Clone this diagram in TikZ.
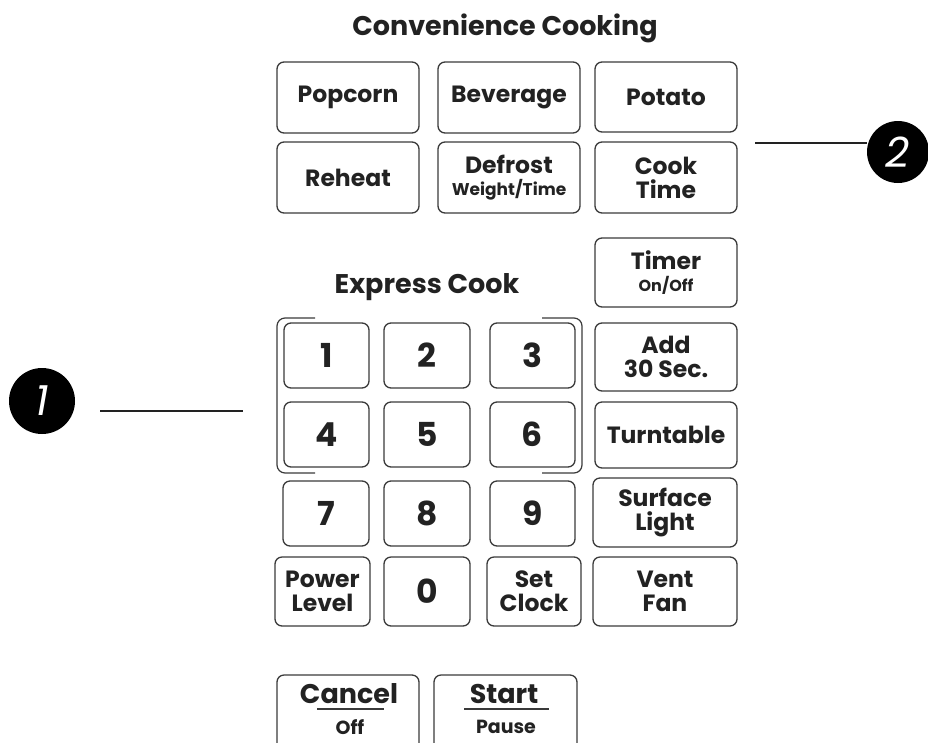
\documentclass[tikz,border=0pt]{standalone}
\usepackage{fontspec}
\setmainfont{Poppins}
\definecolor{ink}{HTML}{222222}
\definecolor{edge}{HTML}{3A3A3A}
\tikzset{
  btn/.style={draw=edge, line width=1.3pt, rounded corners=7pt, inner sep=0pt, align=center, text=ink,
    font=\fontsize{23.5}{24}\selectfont\bfseries},
  digit/.style={btn, font=\fontsize{33}{34}\selectfont\bfseries},
  small/.style={font=\fontsize{19}{20}\selectfont\bfseries},
  title/.style={text=ink, font=\fontsize{27}{28}\selectfont\bfseries, inner sep=0pt},
  badge/.style={circle, fill=black, minimum size=66pt, inner sep=0pt, text=white,
    font=\fontsize{42}{42}\selectfont\itshape},
  leader/.style={line width=1.6pt, draw=ink},
  bracket/.style={draw=edge, line width=1.2pt, rounded corners=8pt}
}
\begin{document}
\begin{tikzpicture}[x=1pt,y=-1pt]
\useasboundingbox (0,0) rectangle (928,742);
% titles
\node[title] (tconv) at (505,28) {Convenience Cooking};
\node[title] (texp) at (427,287) {Express Cook};
% convenience cooking
\node[btn, minimum width=142pt, minimum height=71pt] (popcorn) at (348,97.5) {Popcorn};
\node[btn, minimum width=142pt, minimum height=71pt] (beverage) at (509,97.5) {Beverage};
\node[btn, minimum width=142pt, minimum height=70pt] (potato) at (666,97) {Potato};
\node[btn, minimum width=142pt, minimum height=71pt] (reheat) at (348,177.5) {Reheat};
\node[btn, minimum width=142pt, minimum height=71pt] (defrost) at (509,177.5) {Defrost\\[-2pt]{\fontsize{17}{18}\selectfont Weight/Time}};
\node[btn, minimum width=142pt, minimum height=71pt] (cooktime) at (666,177.5) {Cook\\Time};
% right column
\node[btn, minimum width=142pt, minimum height=69pt] (timer) at (666,272.5) {Timer\\[-2pt]{\fontsize{16}{17}\selectfont On/Off}};
\node[btn, minimum width=142pt, minimum height=68pt] (add) at (666,357) {Add\\30 Sec.};
\node[btn, minimum width=142pt, minimum height=66pt] (turntable) at (666,435) {Turntable};
\node[btn, minimum width=144pt, minimum height=69pt] (surface) at (665,512.5) {Surface\\Light};
\node[btn, minimum width=144pt, minimum height=69pt] (vent) at (665,591.5) {Vent\\Fan};
% express cook bracket
\draw[bracket] (315,318) -- (277,318) -- (277,473) -- (315,473);
\draw[bracket] (542,318) -- (582,318) -- (582,473) -- (542,473);
% keypad
\node[digit, minimum width=85pt, minimum height=65pt] (k1) at (326.5,355.5) {1};
\node[digit, minimum width=86pt, minimum height=65pt] (k2) at (427,355.5) {2};
\node[digit, minimum width=85pt, minimum height=65pt] (k3) at (532.5,355.5) {3};
\node[digit, minimum width=85pt, minimum height=65pt] (k4) at (326.5,434.5) {4};
\node[digit, minimum width=86pt, minimum height=65pt] (k5) at (427,434.5) {5};
\node[digit, minimum width=85pt, minimum height=65pt] (k6) at (532.5,434.5) {6};
\node[digit, minimum width=86pt, minimum height=65pt] (k7) at (326,513.5) {7};
\node[digit, minimum width=86pt, minimum height=65pt] (k8) at (427,513.5) {8};
\node[digit, minimum width=85pt, minimum height=65pt] (k9) at (532.5,513.5) {9};
\node[btn, minimum width=95pt, minimum height=69pt] (power) at (322.5,591.5) {Power\\Level};
\node[digit, minimum width=86pt, minimum height=69pt] (k0) at (427,591.5) {0};
\node[btn, minimum width=94pt, minimum height=69pt] (setclock) at (534,591.5) {Set\\Clock};
% cancel / start
\node[btn, minimum width=142pt, minimum height=90pt] (cancel) at (348,720) {};
\node[btn, minimum width=143pt, minimum height=90pt] (start) at (505.5,720) {};
\node[title] (cancelt) at (349,694) {Cancel};
\node[text=ink, small] (offt) at (350,727) {Off};
\draw[edge, line width=1.3pt] (317,709) -- (384,709);
\node[title] (startt) at (504,694) {Start};
\node[text=ink, small] (pauset) at (506,727) {Pause};
\draw[edge, line width=1.3pt] (464,709) -- (549,709);
% callouts
\node[badge] (b1) at (42,401) {1};
\coordinate (l1a) at (100,411);
\coordinate (l1b) at (243,411);
\draw[leader] (l1a) -- (l1b);
\node[badge, minimum size=62pt] (b2) at (898,152) {2};
\coordinate (l2a) at (755,143);
\draw[leader] (l2a) -- (l2a -| b2.west);
\end{tikzpicture}
\end{document}
